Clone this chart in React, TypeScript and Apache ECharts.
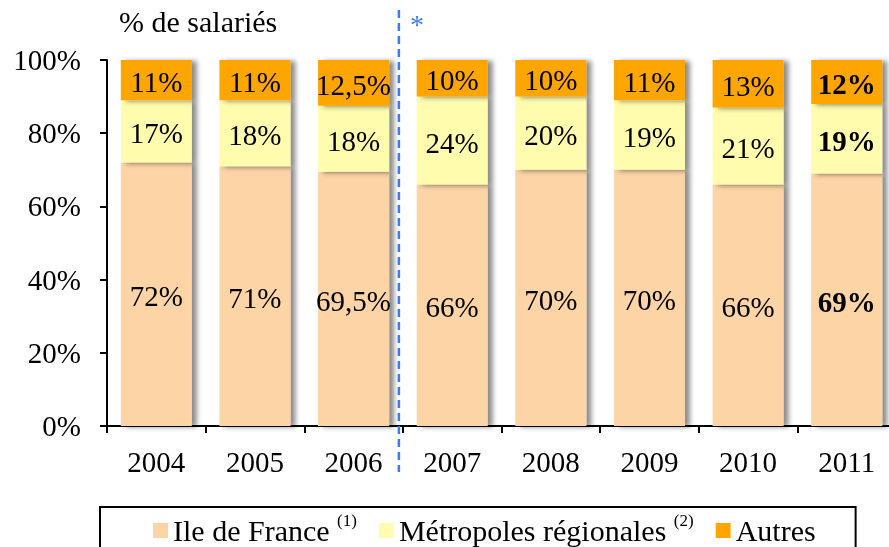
import React, { useEffect, useRef } from "react";
import * as echarts from "echarts";

const categories = ["2004", "2005", "2006", "2007", "2008", "2009", "2010", "2011"];
const ileDeFrance = [72, 71, 69.5, 66, 70, 70, 66, 69];
const metropoles = [17, 18, 18, 24, 20, 19, 21, 19];
const autres = [11, 11, 12.5, 10, 10, 11, 13, 12];
const yTicks = [0, 20, 40, 60, 80, 100];
const seriesNames = ["Ile de France", "Métropoles régionales", "Autres"];
const superscripts: Record<string, string> = {
  "Ile de France": "(1)",
  "Métropoles régionales": "(2)",
};
const colors = ["#FCD4A6", "#FFFCAE", "#FFA500"];
const boldIndex = 7;

const FONT = "'Liberation Serif', 'Times New Roman', serif";

export default function App() {
  const ref = useRef<HTMLDivElement>(null);
  useEffect(() => {
    if (!ref.current) return;
    const chart = echarts.init(ref.current, undefined, { renderer: "svg" });
    const mkData = (vals: number[]) =>
      vals.map((v, i) =>
        i === boldIndex ? { value: v, label: { fontWeight: "bold" } } : { value: v }
      );
    const mkSeries = (name: string, vals: number[], color: string) => ({
      name,
      type: "bar",
      stack: "total",
      barWidth: 71,
      data: mkData(vals),
      itemStyle: {
        color,
        shadowColor: "rgba(0,0,0,0.45)",
        shadowBlur: 5,
        shadowOffsetX: 5,
        shadowOffsetY: 1,
      },
      label: {
        show: true,
        position: "inside",
        fontSize: 29,
        fontFamily: FONT,
        color: "#000",
        offset: [0, 2],
        formatter: (p: any) => String(p.value).replace(".", ",") + "%",
      },
    });
    chart.setOption({
      animation: false,
      title: {
        text: "% de salariés",
        left: 119,
        top: 6,
        padding: 0,
        textStyle: { fontSize: 30, fontWeight: "normal", fontFamily: FONT, color: "#000" },
      },
      grid: { left: 107, top: 60, width: 789, height: 366, outerBoundsMode: "none" },
      xAxis: {
        type: "category",
        data: categories,
        axisLine: { show: true, lineStyle: { color: "#000", width: 2 } },
        axisTick: { show: true, length: 7, lineStyle: { color: "#000", width: 2 } },
        axisLabel: { fontSize: 29, fontFamily: FONT, color: "#000", margin: 21 },
      },
      yAxis: {
        type: "value",
        min: yTicks[0],
        max: yTicks[yTicks.length - 1],
        interval: yTicks[1] - yTicks[0],
        axisLine: { show: true, lineStyle: { color: "#000", width: 2 } },
        axisTick: { show: true, length: 7, lineStyle: { color: "#000", width: 2 } },
        splitLine: { show: false },
        axisLabel: {
          fontSize: 29,
          fontFamily: FONT,
          color: "#000",
          margin: 26,
          formatter: "{value}%",
        },
      },
      legend: {
        data: seriesNames,
        left: 100,
        top: 507,
        padding: [5, 40, 8, 53],
        borderColor: "#000",
        borderWidth: 2,
        itemWidth: 15,
        itemHeight: 15,
        itemGap: 22,
        icon: "rect",
        formatter: (name: string) =>
          superscripts[name] ? `${name} {s|${superscripts[name]}}` : name,
        textStyle: {
          fontSize: 30,
          fontFamily: FONT,
          color: "#000",
          rich: {
            s: {
              fontSize: 17,
              fontFamily: FONT,
              color: "#000",
              verticalAlign: "top",
              padding: [0, 0, 20, 0],
            },
          },
        },
      },
      series: [
        mkSeries(seriesNames[0], ileDeFrance, colors[0]),
        mkSeries(seriesNames[1], metropoles, colors[1]),
        mkSeries(seriesNames[2], autres, colors[2]),
      ],
    });
    const x1 = chart.convertToPixel({ xAxisIndex: 0 }, categories[2]) as number;
    const x2 = chart.convertToPixel({ xAxisIndex: 0 }, categories[3]) as number;
    const xm = (x1 + x2) / 2 - 4;
    chart.setOption({
      graphic: [
        {
          type: "line",
          shape: { x1: xm, y1: 10, x2: xm, y2: 472 },
          style: { stroke: "#3D7CF5", lineWidth: 2.5, lineDash: [8, 5] },
          z: 100,
        },
        {
          type: "text",
          x: xm + 18,
          y: 24,
          style: {
            text: "*",
            fontSize: 28,
            fontFamily: FONT,
            fill: "#3D7CF5",
            align: "center",
            verticalAlign: "middle",
          },
          z: 100,
        },
      ],
    });
    return () => chart.dispose();
  }, []);
  return (
    <div
      ref={ref}
      style={{ position: "fixed", left: 0, top: 0, width: 889, height: 547 }}
    />
  );
}
